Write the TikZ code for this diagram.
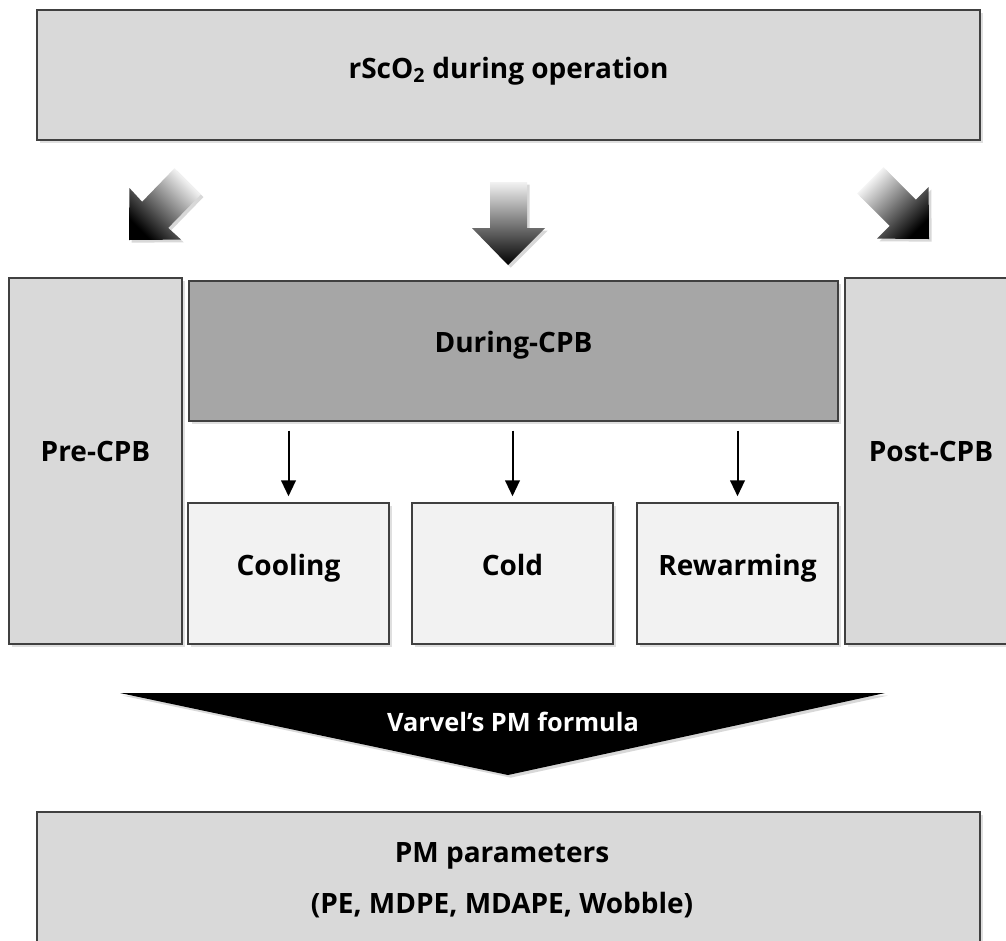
\documentclass[tikz,border=0pt]{standalone}
\usepackage{fontspec}
\setmainfont{Open Sans}
\usetikzlibrary{shadows,arrows.meta,fit}
\definecolor{lg}{HTML}{D9D9D9}
\definecolor{dg}{HTML}{A6A6A6}
\definecolor{vl}{HTML}{F2F2F2}
\definecolor{bd}{HTML}{404040}
\begin{document}
\begin{tikzpicture}[x=0.75pt,y=-0.75pt,
  box/.style={draw=bd, line width=1.1pt, inner sep=0pt,
    drop shadow={opacity=0.25,shadow xshift=2pt,shadow yshift=-2pt}},
  lbl/.style={font=\fontsize{21}{25}\selectfont\bfseries, anchor=base, inner sep=0pt},
  bigarrow/.style={drop shadow={opacity=0.3,shadow xshift=2pt,shadow yshift=-2pt}},
  smallarrow/.style={-{Triangle[width=11pt,length=12pt]}, line width=1.5pt, shorten <=6.75pt, shorten >=4.5pt},
]
\clip (0,0) rectangle (1006,940);
\fill[white] (0,0) rectangle (1006,940);

% top box
\node[box, fill=lg, fit={(37,10) (980,140)}] (top) {};
\node[lbl] (topT) at (508.5,78) {rScO\textsubscript{2} during operation};

% big gradient arrows
\path[bigarrow, top color=white, middle color=gray!40, bottom color=black, shading angle=-45]
  (129,240) -- (129.4,188) -- (142.1,201.8) -- (174.6,168.2) -- (200.8,194.4) -- (168.2,227.9) -- (181,239.6) -- cycle;
\path[bigarrow, top color=gray!10, middle color=gray!45, bottom color=black]
  (508,265) -- (472,228) -- (490,228) -- (490,182) -- (527,182) -- (527,228) -- (545,228) -- cycle;
\path[bigarrow, top color=white, middle color=gray!40, bottom color=black, shading angle=45]
  (929,239) -- (928.6,187) -- (915.9,199.8) -- (883.4,167.2) -- (857.2,193.4) -- (889.8,225.9) -- (877,238.6) -- cycle;

% side boxes
\node[box, fill=lg, fit={(9,278) (182,644)}] (pre) {};
\node[lbl] (preT) at (95.5,461) {Pre-CPB};
\node[box, fill=lg, fit={(845,278) (1017,644)}] (post) {};
\node[lbl] (postT) at (931,461) {Post-CPB};

% during
\node[box, fill=dg, fit={(189,281) (838,421)}] (dur) {};
\node[lbl] (durT) at (513.5,352) {During-CPB};

\node[box, fill=vl, fit={(188,503) (389,644)}] (cool) {};
\node[lbl] (coolT) at (288.5,575) {Cooling};
\node[box, fill=vl, fit={(412,503) (613,644)}] (cold) {};
\node[lbl] (coldT) at (512.5,575) {Cold};
\node[box, fill=vl, fit={(637,503) (838,644)}] (rew) {};
\node[lbl] (rewT) at (737.5,575) {Rewarming};

\draw[smallarrow] (cool.north |- dur.south) -- (cool.north);
\draw[smallarrow] (cold.north |- dur.south) -- (cold.north);
\draw[smallarrow] (rew.north |- dur.south) -- (rew.north);

% black funnel
\fill[black, drop shadow={opacity=0.3,shadow xshift=2pt,shadow yshift=-2pt}]
  (120,693) -- (885,693) -- (508,775) -- cycle;
\node[lbl, white, font=\fontsize{19}{22}\selectfont\bfseries] (varT) at (513,731) {Varvel’s PM formula};

% bottom box
\node[box, fill=lg, fit={(37,812) (980,960)}] (bot) {};
\node[lbl] (botT1) at (502,862) {PM parameters};
\node[lbl] (botT2) at (502,913) {(PE, MDPE, MDAPE, Wobble)};
\end{tikzpicture}
\end{document}
